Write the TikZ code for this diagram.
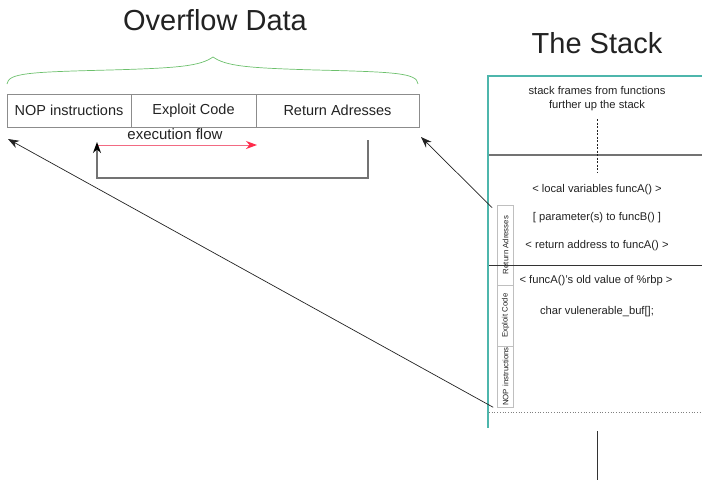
\documentclass[tikz,border=0pt]{standalone}
\usepackage{fontspec}
\setmainfont{Liberation Sans}
\usetikzlibrary{arrows.meta}
\definecolor{teal1}{HTML}{4DB6AC}
\definecolor{brace}{HTML}{6CC06C}
\definecolor{flow}{HTML}{F26A82}
\definecolor{flowtip}{HTML}{FF2A4A}
\definecolor{ink}{HTML}{222222}
\tikzset{
  seg/.style={draw=black!45, line width=0.9pt, rectangle, minimum height=33pt, inner sep=0pt, font=\fontsize{14.5}{16}\selectfont, text=ink},
  vbox/.style={draw=black!25, line width=0.6pt, rectangle, minimum width=16pt, inner sep=0pt},
  vlabel/.style={rotate=90, font=\fontsize{7.8}{9}\selectfont, text=ink, inner sep=0pt},
  stacktxt/.style={font=\fontsize{11.2}{14}\selectfont, text=ink, align=center, inner sep=0pt},
  tip/.style={-{Stealth[length=11pt,width=8pt,inset=3.5pt]}},
}
\begin{document}
\begin{tikzpicture}[x=1pt,y=-1pt]
\useasboundingbox (0,0) rectangle (702,480);

% titles
\node[font=\fontsize{29}{32}\selectfont, text=ink] (title) at (215,20) {Overflow Data};
\node[font=\fontsize{29}{32}\selectfont, text=ink] (stacktitle) at (597,43) {The Stack};

% curly brace over the payload
\draw[brace, line width=0.7pt] (7,84) .. controls (8,73) and (30,72) .. (110,70)
  .. controls (180,68) and (200,66) .. (213,57)
  .. controls (226,66) and (246,68) .. (316,70)
  .. controls (396,72) and (417,73) .. (418,84);

% payload segments
\node[seg, minimum width=124pt] (nop) at (69,110.5) {NOP instructions};
\node[seg, minimum width=125pt] (exploit) at (193.5,110.5) {Exploit Code};
\node[seg, minimum width=163pt] (ret) at (337.5,110.5) {Return Adresses};

% execution flow
\node[font=\fontsize{15}{17}\selectfont, text=ink] (flowlbl) at (175,134) {execution flow};
\coordinate (fstart) at (97,145);
\coordinate (fend) at (257,145);
\draw[flow, line width=1pt, -{Stealth[length=11pt,width=8pt,inset=3.5pt,color=flowtip]}] (fstart) -- (fend);
\coordinate (jmp) at (368,140);
\coordinate (jmpend) at (97,142);
\draw[black!55, line width=1.2pt] (jmp) -- (368,178) -- (97,178) -- (97,150);
\draw[black!55, line width=1.2pt, -{Stealth[length=11pt,width=8pt,inset=3.5pt,color=black]}] (97,152) -- (jmpend);

% stack frame borders
\coordinate (stl) at (488,76);
\coordinate (str) at (702,76);
\coordinate (sbl) at (488,428);
\draw[teal1, line width=1.6pt] (str) -- (stl) -- (sbl);
\draw[black!55, line width=1.2pt] (489,155) -- (702,155);
\draw[black!50, line width=0.7pt, dotted] (489,412) -- (702,412);
\draw[ink, line width=0.9pt, dash pattern=on 2pt off 1.5pt] (597,119) -- (597,172);
\draw[black!80, line width=0.9pt] (597,431) -- (597,480);

% stack contents
\node[stacktxt] (upper) at (597,99) {stack frames from functions\\further up the stack};
\node[stacktxt] (locals) at (597,190) {< local variables funcA() >};
\node[stacktxt] (params) at (597,218) {[ parameter(s) to funcB() ]};
\node[stacktxt] (retaddr) at (597,246) {< return address to funcA() >};
\node[stacktxt] (oldrbp) at (596,281) {< funcA()'s old value of \%rbp >};
\node[stacktxt] (buf) at (597,312) {char vulenerable\_buf[];};

% overflow overlay on the stack
\node[vbox, minimum height=80pt] (vret) at (505.5,245) {};
\node[vbox, minimum height=61pt] (vexp) at (505.5,315.5) {};
\node[vbox, minimum height=61pt] (vnop) at (505.5,376.5) {};
\node[vlabel] at (vret.center) {Return Adresses};
\node[vlabel] at (vexp.center) {Exploit Code};
\node[vlabel] at (vnop.center) {NOP instructions};
\draw[black!80, line width=0.9pt] (489,265) -- (702,265);

% where the payload lands
\coordinate (rettarget) at (421,137);
\coordinate (noptarget) at (8,139);
\draw[ink, line width=0.7pt, tip] ([xshift=-5pt,yshift=-3pt]vret.north west) -- (rettarget);
\draw[ink, line width=0.7pt, tip] ([xshift=-4pt]vnop.south west) -- (noptarget);
\end{tikzpicture}
\end{document}
